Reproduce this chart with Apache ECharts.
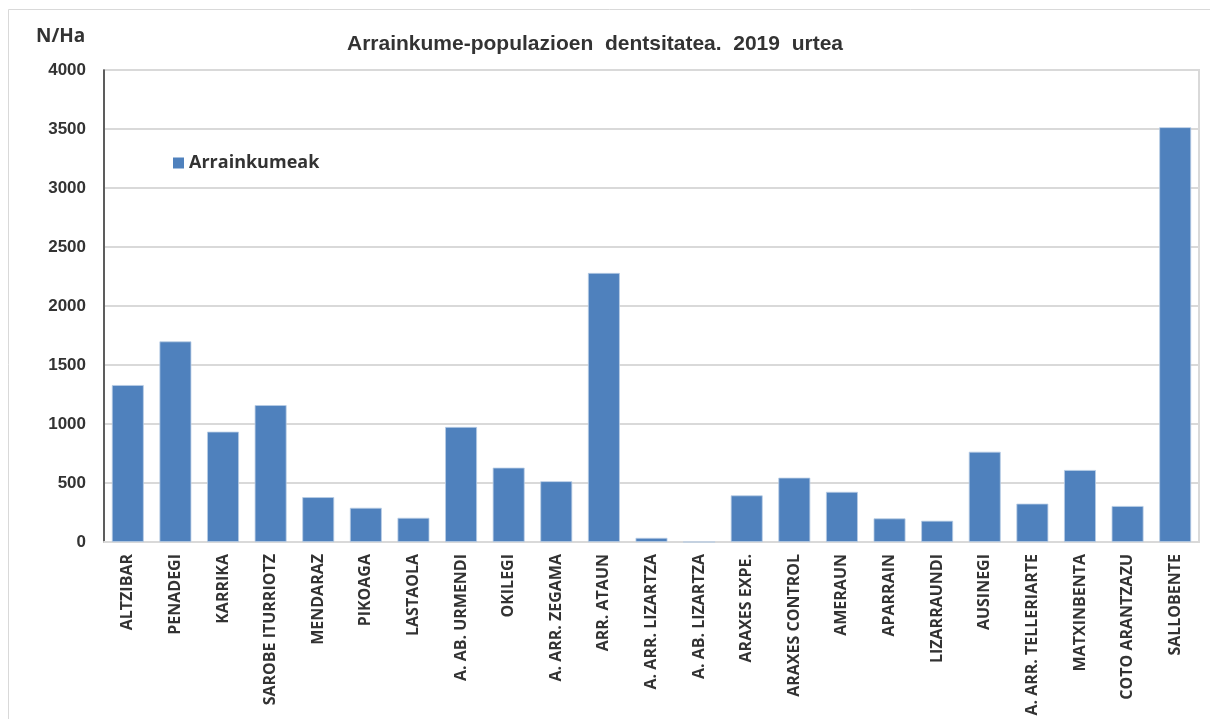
<!DOCTYPE html>
<html>
<head>
<meta charset="utf-8">
<script src="https://cdn.jsdelivr.net/npm/echarts@6/dist/echarts.min.js"></script>
<style>html,body{margin:0;padding:0;background:#fff;}#c{width:1210px;height:719px;}</style>
</head>
<body>
<div id="c"></div>
<script>
const categories = ["ALTZIBAR","PENADEGI","KARRIKA","SAROBE ITURRIOTZ","MENDARAZ","PIKOAGA","LASTAOLA","A. AB. URMENDI","OKILEGI","A. ARR. ZEGAMA","ARR. ATAUN","A. ARR. LIZARTZA","A. AB. LIZARTZA","ARAXES EXPE.","ARAXES CONTROL","AMERAUN","APARRAIN","LIZARRAUNDI","AUSINEGI","A. ARR. TELLERIARTE","MATXINBENTA","COTO ARANTZAZU","SALLOBENTE"];
const arrainkumeak = [1330,1700,935,1160,380,290,205,975,630,515,2280,35,0,395,545,425,200,180,765,325,610,305,3515];
const seriesName = "Arrainkumeak";
const titleText = "Arrainkume-populazioen  dentsitatea.  2019  urtea";
const yUnit = "N/Ha";

const chart = echarts.init(document.getElementById('c'));
chart.setOption({
  animation: false,
  backgroundColor: '#fff',
  title: {
    text: titleText, left: 590, top: 29, textAlign: 'center',
    textStyle: {fontFamily: 'Liberation Sans', fontSize: 21, fontWeight: 'bold', color: '#333'}
  },
  graphic: [
    {type: 'rect', shape: {x: 8.5, y: 9.5, width: 1210, height: 720}, style: {fill: 'none', stroke: '#d9d9d9', lineWidth: 1}},
    {type: 'text', left: 36, top: 27, style: {text: yUnit, font: 'bold 19px "Open Sans"', fill: '#333'}}
  ],
  legend: {
    data: [seriesName], left: 168, top: 149, itemWidth: 11, itemHeight: 11, itemGap: 6,
    icon: 'rect',
    itemStyle: {borderWidth: 0},
    textStyle: {fontFamily: 'Open Sans', fontSize: 18, fontWeight: 'bold', color: '#333'}
  },
  grid: {left: 104, right: 11, top: 70, bottom: 177, show: true, borderColor: '#d9d9d9', borderWidth: 2, containLabel: false},
  xAxis: {
    type: 'category', data: categories,
    axisLine: {lineStyle: {color: '#d9d9d9', width: 2}},
    axisTick: {show: false},
    axisLabel: {rotate: 90, interval: 0, margin: 12, fontFamily: 'Open Sans', fontSize: 16, fontWeight: 'bold', color: '#333'}
  },
  yAxis: {
    type: 'value', min: 0, max: 4000, interval: 500,
    axisLine: {show: true, lineStyle: {color: '#333', width: 1.5}},
    axisTick: {show: false},
    splitLine: {lineStyle: {color: '#d9d9d9', width: 2}},
    axisLabel: {margin: 18, formatter: v => String(v), fontFamily: 'Liberation Sans', fontSize: 17, fontWeight: 'bold', color: '#333'}
  },
  series: [{
    name: seriesName, type: 'bar', data: arrainkumeak, barCategoryGap: '33%',
    itemStyle: {color: '#4F81BD', borderColor: '#b9cde5', borderWidth: 0.8}
  }]
});
</script>
</body>
</html>
